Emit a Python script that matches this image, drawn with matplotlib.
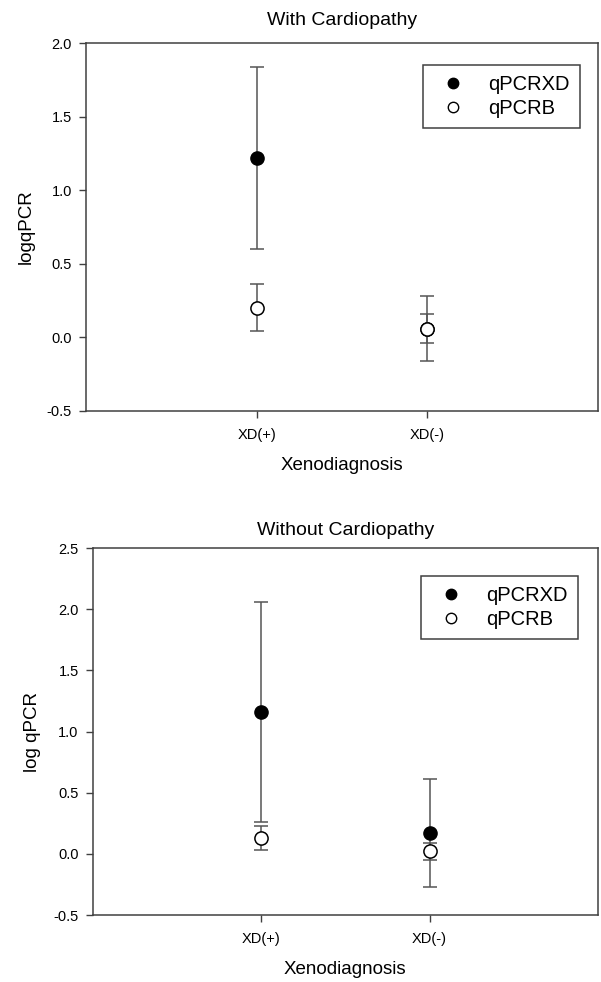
import numpy as np
import matplotlib.pyplot as plt
from matplotlib.lines import Line2D

plt.rcParams['font.family'] = ['Liberation Sans', 'DejaVu Sans']

groups = ['XD(+)', 'XD(-)']
pos = [1, 2]

# with cardiopathy
top_xd = [1.22, 0.06]
top_xd_err = [0.62, 0.22]
top_b = [0.20, 0.06]
top_b_err = [0.16, 0.10]

# without cardiopathy
bot_xd = [1.16, 0.17]
bot_xd_err = [0.90, 0.44]
bot_b = [0.13, 0.02]
bot_b_err = [0.10, 0.07]

edge = '#404040'

fig = plt.figure(figsize=(6.01, 9.82), dpi=100)
ax1 = fig.add_axes([0.143, 0.5815, 0.852, 0.3747])
ax2 = fig.add_axes([0.154, 0.0682, 0.841, 0.3737])


def draw(ax, xd, xd_err, b, b_err, ylim, yticks, ylabel, title, tpad, anchor):
    ax.errorbar(pos, xd, yerr=xd_err, fmt='o', color='black', ecolor='#555555',
                elinewidth=1.1, capsize=5, capthick=1.1, markersize=9.5,
                zorder=3)
    ax.errorbar(pos, b, yerr=b_err, fmt='o', mfc='white', mec='black', mew=1.1,
                ecolor='#555555', elinewidth=1.1, capsize=5, capthick=1.1,
                markersize=9.5, zorder=4)
    ax.set_xlim(0, 3)
    ax.set_ylim(*ylim)
    ax.set_yticks(yticks)
    ax.set_yticklabels(['%.1f' % v for v in yticks])
    ax.set_xticks(pos)
    ax.set_xticklabels(groups)
    ax.tick_params(direction='out', length=5, width=1, color=edge, labelsize=10.5,
                   pad=5)
    ax.tick_params(axis='x', pad=7)
    for s in ax.spines.values():
        s.set_color(edge)
        s.set_linewidth(1.1)
    ax.set_xlabel('Xenodiagnosis', fontsize=13.5, labelpad=11)
    ax.set_ylabel(ylabel, fontsize=13.5, labelpad=9)
    ax.set_title(title, fontsize=14, pad=tpad)
    handles = [Line2D([], [], ls='none', marker='o', color='black', markersize=7.5),
               Line2D([], [], ls='none', marker='o', mfc='white', mec='black',
                      mew=1.0, markersize=7.5)]
    leg = ax.legend(handles, ['qPCRXD', 'qPCRB'], loc='upper right',
                    bbox_to_anchor=anchor, fancybox=False, edgecolor=edge,
                    fontsize=14.5, handletextpad=0.75, borderpad=0.5,
                    labelspacing=0.25, handlelength=2.0, framealpha=1,
                    borderaxespad=0)
    leg.get_frame().set_linewidth(1.1)


draw(ax1, top_xd, top_xd_err, top_b, top_b_err, (-0.5, 2.0),
     np.arange(-0.5, 2.01, 0.5), 'logqPCR', 'With Cardiopathy', 13,
     (0.965, 0.94))
draw(ax2, bot_xd, bot_xd_err, bot_b, bot_b_err, (-0.5, 2.5),
     np.arange(-0.5, 2.51, 0.5), 'log qPCR', 'Without Cardiopathy', 9.5,
     (0.96, 0.924))

fig.savefig('out.png', dpi=100)
